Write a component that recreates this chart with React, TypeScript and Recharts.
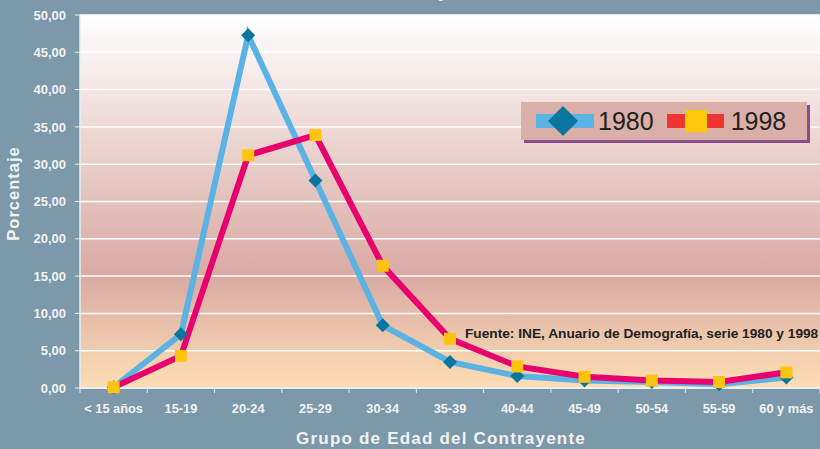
import React from "react";
import { LineChart, Line, XAxis, YAxis, CartesianGrid } from "recharts";

const categories = ["< 15 años", "15-19", "20-24", "25-29", "30-34", "35-39", "40-44", "45-49", "50-54", "55-59", "60 y más"];
const values1980 = [0.1, 7.2, 47.3, 27.8, 8.4, 3.5, 1.6, 1.0, 0.8, 0.5, 1.4];
const values1998 = [0.1, 4.3, 31.2, 33.9, 16.4, 6.6, 2.9, 1.5, 1.0, 0.8, 2.1];
const yTicks = [0, 5, 10, 15, 20, 25, 30, 35, 40, 45, 50];

const data = categories.map((c, i) => ({ cat: c, s1980: values1980[i], s1998: values1998[i] }));

const FONT = "'Liberation Sans', Arial, sans-serif";
const BG = "#7B99A8";
const HALF_BAND = 740 / 11 / 2;

const Diamond = (props: any) => {
  const { cx, cy } = props;
  if (cx == null || cy == null) return null;
  const r = 7;
  return <polygon points={`${cx},${cy - r} ${cx + r},${cy} ${cx},${cy + r} ${cx - r},${cy}`} fill="#0A76A0" />;
};
const Square = (props: any) => {
  const { cx, cy } = props;
  if (cx == null || cy == null) return null;
  const s = 12;
  return <rect x={cx - s / 2} y={cy - s / 2} width={s} height={s} fill="#FFC40F" />;
};

const XTick = (props: any) => {
  const { x, y, payload, index } = props;
  return (
    <g>
      <line x1={x - HALF_BAND} y1={y - 8} x2={x - HALF_BAND} y2={y - 3} stroke="#E8EEF0" strokeWidth={1} />
      {index === categories.length - 1 ? (
        <line x1={x + HALF_BAND} y1={y - 8} x2={x + HALF_BAND} y2={y - 3} stroke="#E8EEF0" strokeWidth={1} />
      ) : null}
      <text x={x} y={y + 17} textAnchor="middle" fill="#F2F2F2" fontSize={12.8} fontWeight="bold" fontFamily={FONT}>
        {payload.value}
      </text>
    </g>
  );
};

const YLabel = (props: any) => {
  const { viewBox } = props;
  const cy = viewBox ? viewBox.y + viewBox.height / 2 - 8 : 193;
  return (
    <text
      x={19}
      y={cy}
      transform={`rotate(-90, 19, ${cy})`}
      textAnchor="middle"
      fill="#F2F2F2"
      fontSize={16.5}
      fontWeight="bold"
      fontFamily={FONT}
      letterSpacing={1}
    >
      Porcentaje
    </text>
  );
};

const LegendBox = () => (
  <div
    style={{
      position: "absolute",
      left: 521,
      top: 102,
      width: 286,
      height: 38,
      background: "#DAAFA8",
      boxShadow: "3px 3px 0 #8C4C8C",
      display: "flex",
      alignItems: "center",
      fontFamily: FONT,
      fontSize: 25,
      color: "#222",
      boxSizing: "border-box",
      paddingLeft: 15,
    }}
  >
    <svg width={58} height={32} style={{ display: "block" }}>
      <rect x={0} y={9} width={58} height={14} fill="#5AB3E4" />
      <polygon points="27,1 42,16 27,31 12,16" fill="#0A76A0" />
    </svg>
    <span style={{ marginLeft: 4, lineHeight: "30px" }}>1980</span>
    <svg width={57} height={24} style={{ display: "block", marginLeft: 13 }}>
      <rect x={0} y={5} width={57} height={14} fill="#EE3530" />
      <rect x={18} y={1} width={22} height={22} fill="#FFC70A" />
    </svg>
    <span style={{ marginLeft: 7, lineHeight: "30px" }}>1998</span>
  </div>
);

export default function App() {
  return (
    <div style={{ position: "absolute", left: 0, top: 0, width: 820, height: 449, background: BG, overflow: "hidden" }}>
      <div
        style={{
          position: "absolute",
          left: 0,
          width: 886,
          top: -17,
          textAlign: "center",
          color: "#FFFFFF",
          fontFamily: FONT,
          fontWeight: "bold",
          fontSize: 17,
        }}
      >
        1980 y 1998
      </div>
      <LineChart width={820} height={449} data={data} margin={{ top: 15, right: 0, bottom: 61, left: 0 }}>
        <defs>
          <linearGradient id="plotBg" x1="0" y1="0" x2="0" y2="1">
            <stop offset="0%" stopColor="#FFFFFF" />
            <stop offset="40%" stopColor="#E8CDC8" />
            <stop offset="70%" stopColor="#D9AAA3" />
            <stop offset="100%" stopColor="#FDDEB4" />
          </linearGradient>
        </defs>
        <CartesianGrid vertical={false} horizontal={true} stroke="#FFFFFF" strokeWidth={1.5} fill="url(#plotBg)" />
        <XAxis
          dataKey="cat"
          height={0.001}
          tick={<XTick />}
          tickLine={false}
          axisLine={{ stroke: "#E8EEF0", strokeWidth: 1.5 }}
          interval={0}
          padding={{ left: HALF_BAND, right: HALF_BAND }}
        />
        <YAxis
          width={80}
          domain={[0, 50]}
          ticks={yTicks}
          interval={0}
          tickFormatter={(v: number) => v.toFixed(2).replace(".", ",")}
          tick={{ fill: "#F2F2F2", fontSize: 13, fontWeight: "bold", fontFamily: FONT }}
          tickLine={{ stroke: "#E8EEF0" }}
          tickSize={5}
          tickMargin={9}
          axisLine={{ stroke: "#E8EEF0", strokeWidth: 1.5 }}
          label={<YLabel />}
        />
        <Line
          type="linear"
          dataKey="s1980"
          name="1980"
          stroke="#5AB3E4"
          strokeWidth={6}
          dot={<Diamond />}
          activeDot={false}
          isAnimationActive={false}
        />
        <Line
          type="linear"
          dataKey="s1998"
          name="1998"
          stroke="#E8006F"
          strokeWidth={6}
          dot={<Square />}
          activeDot={false}
          isAnimationActive={false}
        />
      </LineChart>
      <LegendBox />
      <div
        style={{
          position: "absolute",
          left: 465,
          top: 326,
          color: "#222",
          fontFamily: FONT,
          fontWeight: "bold",
          fontSize: 13.7,
          whiteSpace: "nowrap",
        }}
      >
        Fuente: INE, Anuario de Demografía, serie 1980 y 1998
      </div>
      <div
        style={{
          position: "absolute",
          left: 0,
          width: 882,
          top: 429,
          textAlign: "center",
          color: "#F2F2F2",
          fontFamily: FONT,
          fontWeight: "bold",
          fontSize: 17,
          letterSpacing: 1.2,
          whiteSpace: "nowrap",
        }}
      >
        Grupo de Edad del Contrayente
      </div>
    </div>
  );
}
